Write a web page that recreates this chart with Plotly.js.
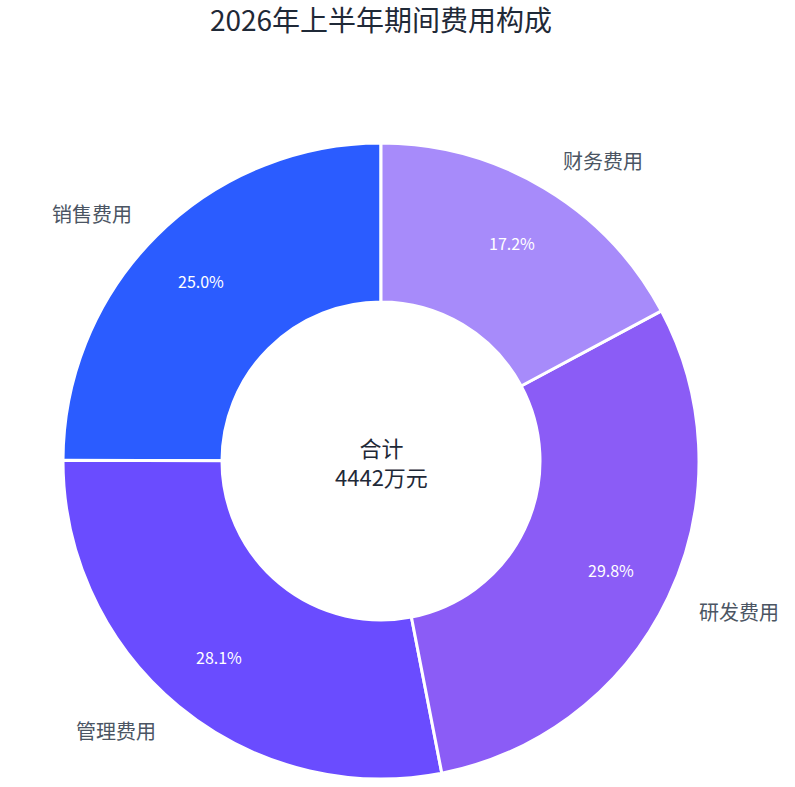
<!DOCTYPE html>
<html>
<head>
<meta charset="utf-8">
<script src="https://cdn.plot.ly/plotly-3.0.1.min.js"></script>
<style>
  html, body { margin: 0; padding: 0; background: #ffffff; }
  #chart { width: 795px; height: 787px; }
</style>
</head>
<body>
<div id="chart"></div>
<script>
const categories = ['销售费用', '管理费用', '研发费用', '财务费用'];
const amounts = [1109, 1248, 1322, 763]; // 万元
const sliceColors = ['#2b5cff', '#6a4cff', '#8b5cf6', '#a78bfa'];

const FONT = '"Noto Sans CJK SC", "Noto Sans", sans-serif';
const total = amounts.reduce((a, b) => a + b, 0);

// labels at 1.1 r, percentages at 0.8 r (pie fills the whole plot area, r = 0.5 paper)
const annotations = [];
let cum = 0;
amounts.forEach((v, i) => {
    const ang = (90 + (cum + v / 2) / total * 360) * Math.PI / 180;
    cum += v;
    const cx = Math.cos(ang), cy = Math.sin(ang);
    annotations.push({
        x: 0.5 + 0.55 * cx, y: 0.5 + 0.55 * cy,
        xref: 'paper', yref: 'paper',
        text: categories[i],
        showarrow: false,
        xanchor: cx >= 0 ? 'left' : 'right',
        yanchor: 'middle',
        font: { family: FONT, size: 20, color: '#4b5563' }
    });
    annotations.push({
        x: 0.5 + 0.4 * cx, y: 0.5 + 0.4 * cy,
        xref: 'paper', yref: 'paper',
        text: (v / total * 100).toFixed(1) + '%',
        showarrow: false,
        xanchor: 'center', yanchor: 'middle',
        font: { family: FONT, size: 16, color: '#ffffff' }
    });
});

annotations.push({
    x: 0.5, y: 0.5, xref: 'paper', yref: 'paper',
    text: '合计<br>' + total + '万元',
    showarrow: false,
    xanchor: 'center', yanchor: 'middle',
    font: { family: FONT, size: 22, color: '#1f2937' }
});

// plotly's counterclockwise pies put the first slice right of the rotation angle,
// so shift back by the first slice to start it at 12 o'clock going left
const startRotation = -amounts[0] / total * 360;

const trace = {
    type: 'pie',
    labels: categories,
    values: amounts,
    hole: 0.5,
    sort: false,
    direction: 'counterclockwise',
    rotation: startRotation,
    marker: { colors: sliceColors, line: { color: '#ffffff', width: 3 } },
    textinfo: 'none',
    hoverinfo: 'label+value+percent',
    showlegend: false
};

const layout = {
    width: 795,
    height: 787,
    margin: { l: 63, r: 96, t: 143, b: 8 },
    title: {
        text: '2026年上半年期间费用构成',
        font: { family: FONT, size: 28, color: '#1f2937' },
        x: 0.5, xref: 'paper', xanchor: 'center',
        y: 1 - 21 / 787, yref: 'container', yanchor: 'middle'
    },
    annotations: annotations,
    showlegend: false,
    paper_bgcolor: '#ffffff',
    plot_bgcolor: '#ffffff'
};

Plotly.newPlot('chart', [trace], layout, { displayModeBar: false });
</script>
</body>
</html>
